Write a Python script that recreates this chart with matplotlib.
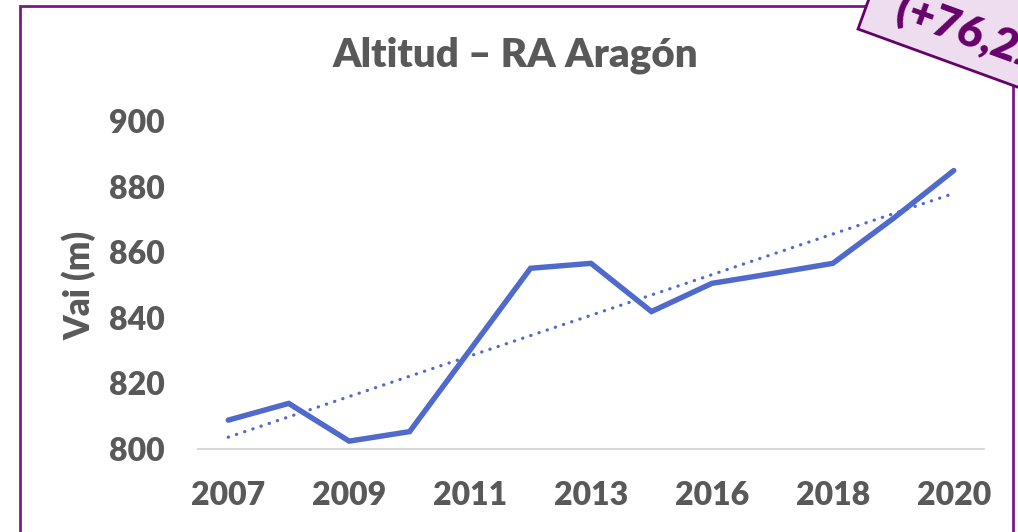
import numpy as np
import matplotlib
matplotlib.use("Agg")
import matplotlib.pyplot as plt
from matplotlib.patches import Rectangle, Polygon

plt.rcParams['font.family'] = ['Lato', 'DejaVu Sans']

# data
years = ['2007', '2008', '2009', '2010', '2011', '2012', '2013',
         '2015', '2016', '2017', '2018', '2019', '2020']
altitude = [808.8, 813.9, 802.4, 805.3, 830.2, 855.1, 856.6,
            841.9, 850.5, 853.5, 856.6, 870.3, 884.9]
yticks = [800, 820, 840, 860, 880, 900]
note = '(+76,22 m)'

gray = '#595959'
blue = '#4F69CC'
purple = '#66006A'
wt = 'heavy'

W, H = 1018, 532
fig = plt.figure(figsize=(W / 100, H / 100), dpi=100)
ax = fig.add_axes([198 / W, 83 / H, 786 / W, 328 / H])

x = np.arange(len(years))
ax.plot(x, altitude, color=blue, lw=3.9, solid_joinstyle='miter', solid_capstyle='round')

# linear trend line
k, b = np.polyfit(x, altitude, 1)
ax.plot(x, k * x + b, color=blue, lw=2.3, linestyle=(0, (0.1, 2.6)),
        dash_capstyle='round')

ax.set_xlim(-0.5, len(years) - 0.5)
ax.set_ylim(800, 900)
ax.set_xticks(x[::2])
ax.set_xticklabels(years[::2])
ax.set_yticks(yticks)
ax.tick_params(length=0, labelsize=23, labelcolor=gray)
ax.tick_params(axis='y', pad=24)
ax.tick_params(axis='x', pad=23)
for lab in ax.get_xticklabels() + ax.get_yticklabels():
    lab.set_fontweight(wt)
for s in ['top', 'right', 'left']:
    ax.spines[s].set_visible(False)
ax.spines['bottom'].set_color('#D9D9D9')
ax.spines['bottom'].set_linewidth(1.5)

ax.set_ylabel('Vai (m)', fontsize=25, fontweight=wt, color=gray)
ax.yaxis.set_label_coords(-0.129, 0.5)

fig.text(515 / W, 466 / H, 'Altitud – RA Aragón', ha='center', va='baseline',
         fontsize=29, fontweight=wt, color=gray)

# outer purple frame
fig.patches.append(Rectangle((20 / W, -0.05), 993 / W, 1.05 - 6 / H,
                             transform=fig.transFigure, fill=False,
                             edgecolor='#7A1A88', lw=2))

# rotated note box in the top right corner
ang = np.deg2rad(-20)
along = np.array([np.cos(ang), np.sin(ang)])
up = np.array([-np.sin(ang), np.cos(ang)])
c0 = np.array([858, H - 29])
pts = [c0, c0 + 320 * along, c0 + 320 * along + 110 * up, c0 + 110 * up]
fig.patches.append(Polygon([(p[0] / W, p[1] / H) for p in pts],
                           transform=fig.transFigure, facecolor='#EEDDEE',
                           edgecolor=purple, lw=2))
tp = c0 + 30 * along + 21 * up
fig.text(tp[0] / W, tp[1] / H, note, rotation=-20, rotation_mode='anchor',
         ha='left', va='baseline', fontsize=32, fontweight=wt, color=purple)

fig.savefig('out.png', dpi=100)
